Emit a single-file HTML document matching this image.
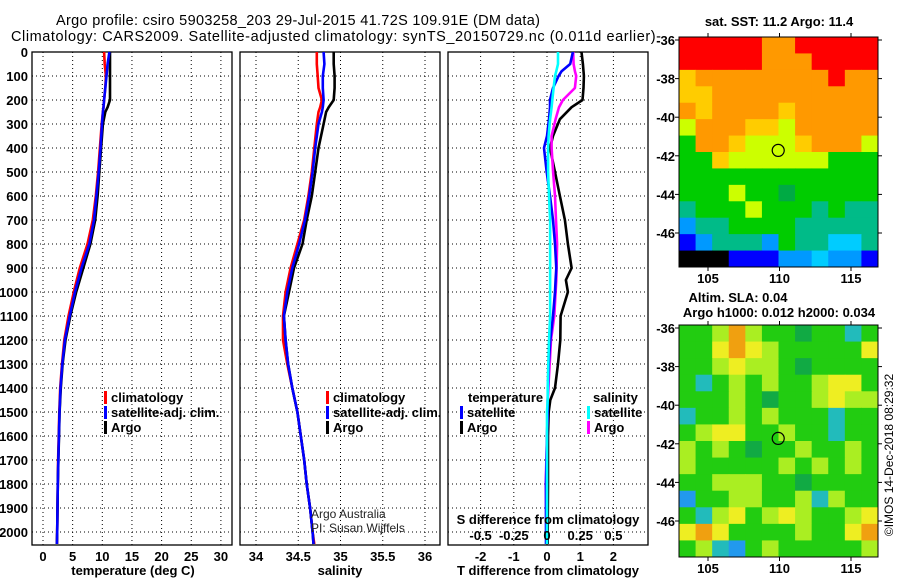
<!DOCTYPE html>
<html><head><meta charset="utf-8"><style>
body{margin:0;background:#fff;}
svg{display:block;font-family:"Liberation Sans",sans-serif;}
.b{font-weight:bold;font-size:13px;}
.t{font-size:14.5px;}
</style></head><body>
<svg id="fig" width="900" height="580" viewBox="0 0 900 580">
<rect width="900" height="580" fill="#fff"/>
<text class="t" x="56" y="25" textLength="484">Argo profile: csiro 5903258_203 29-Jul-2015 41.72S 109.91E (DM data)</text>
<text class="t" x="11" y="41" textLength="650">Climatology: CARS2009. Satellite-adjusted climatology: synTS_20150729.nc (0.011d earlier)-</text>
<g id="g1"></g>
<g id="g2"></g>
<g id="g3"></g>
<g id="m1"></g>
<g id="m2"></g>
<text class="b" x="133" y="575" text-anchor="middle">temperature (deg C)</text>
<text class="b" x="340" y="575" text-anchor="middle">salinity</text>
<text class="b" x="548" y="575" text-anchor="middle">T difference from climatology</text>
<text class="b" x="548" y="524" text-anchor="middle">S difference from climatology</text>
<text x="311" y="518" font-size="12" fill="#222">Argo Australia</text>
<text x="311" y="532" font-size="12" fill="#222">PI: Susan Wijffels</text>
<text class="b" x="779" y="26" text-anchor="middle">sat. SST: 11.2 Argo: 11.4</text>
<text class="b" x="738" y="302" text-anchor="middle">Altim. SLA: 0.04</text>
<text class="b" x="779" y="317" text-anchor="middle">Argo h1000: 0.012 h2000: 0.034</text>
<text x="893" y="455" font-size="12" text-anchor="middle" transform="rotate(-90 893 455)">©IMOS 14-Dec-2018 08:29:32</text>
</svg>
<script>
// ---- profile data ----
const tDepth=[0,50,100,150,200,230,250,300,400,500,600,700,800,900,1000,1100,1200,1300,1400,1500,1600,1700,1800,1900,2000,2050];
const tempArgo=[11.3,11.3,11.3,11.3,11.3,10.9,10.5,10.1,9.8,9.5,9.2,8.8,8.0,6.8,5.6,4.6,3.8,3.3,3.0,2.8,2.7,2.6,2.5,2.45,2.4,2.35];
const tempClim=[10.3,10.4,10.6,10.5,10.3,10.2,10.1,9.9,9.6,9.3,8.9,8.4,7.5,6.2,5.2,4.3,3.6,3.2,2.9,2.75,2.65,2.55,2.5,2.45,2.4,2.35];
const tempSat=[11.2,10.9,10.7,10.5,10.3,10.2,10.1,9.95,9.7,9.4,9.0,8.6,7.8,6.5,5.4,4.5,3.7,3.25,2.95,2.78,2.68,2.58,2.5,2.45,2.4,2.35];
const salArgo=[34.92,34.92,34.93,34.93,34.92,34.86,34.83,34.80,34.74,34.70,34.66,34.60,34.55,34.45,34.39,34.33,34.35,34.38,34.43,34.49,34.53,34.57,34.60,34.64,34.67,34.68];
const salClim=[34.72,34.72,34.73,34.74,34.78,34.76,34.74,34.72,34.69,34.66,34.62,34.57,34.49,34.41,34.35,34.32,34.32,34.37,34.43,34.49,34.53,34.57,34.60,34.64,34.67,34.69];
const salSat=[34.80,34.81,34.79,34.79,34.80,34.79,34.78,34.74,34.70,34.67,34.63,34.58,34.51,34.43,34.37,34.33,34.35,34.38,34.43,34.49,34.53,34.57,34.60,34.64,34.67,34.68];
const dDepth=[0,50,80,100,150,200,230,280,350,400,500,600,700,800,900,950,1000,1100,1200,1300,1400,1450,1500,1600,1800,2000,2050];
const tdArgo=[1.04,1.08,1.1,1.11,1.1,1.07,0.74,0.39,0.18,0.09,0.24,0.39,0.54,0.63,0.74,0.57,0.63,0.41,0.4,0.33,0.24,0.1,0.05,0.03,0.03,0.02,0.02];
const tdSat=[0.78,0.7,0.44,0.35,0.18,0.09,0.09,0.06,0.0,-0.09,-0.01,0.09,0.18,0.24,0.28,0.26,0.24,0.18,0.1,0.05,0.03,0.02,0.02,0.0,-0.03,-0.03,-0.03];
const sdArgo=[0.197,0.2,0.21,0.22,0.21,0.12,0.09,0.065,0.035,0.035,0.046,0.06,0.068,0.076,0.072,0.07,0.065,0.055,0.03,0.02,0.01,0.005,0.005,0.0,-0.01,-0.005,-0.005];
const sdSat=[0.083,0.083,0.07,0.06,0.05,0.04,0.035,0.023,0.012,0.008,0.008,0.015,0.023,0.023,0.023,0.023,0.023,0.023,0.015,0.01,0.005,0.005,0.0,0.0,0.0,0.0,0.0];
const depthTicks=[0,100,200,300,400,500,600,700,800,900,1000,1100,1200,1300,1400,1500,1600,1700,1800,1900,2000];
const tempTicks=[0,5,10,15,20,25,30];
const salTicks=[34,34.5,35,35.5,36];
const salTickLabels=["34","34.5","35","35.5","36"];
const tdTicks=[-2,-1,0,1,2];
const sdTicks=[-0.5,-0.25,0,0.25,0.5];
const sdTickLabels=["-0.5","-0.25","0","0.25","0.5"];
// ---- map data (colour class codes per cell) ----
const sstRows=["RRRRROORRRRR","RRRRROOORRRR","YOOOOOOOOROO","YYOOOOOOOOOO","OYOOOOYOOOOO","LOOOYYLOOOOO","GOOYLLLYOOOL","GGYLLLLLLGGG","GGGGGGGGGGGG","GGGLGGDGGGGG","TGGGLGGGTGTT","BTTGGGGTTTTT","KBTTTBGTTCCT","NNNKKKBBCBBK"];
const slaRows=["GGLOLGGDGGCG","GGYOYLGGGGGY","GGLYLLGDGGGG","GCGLGLGGLYYG","GGGLGDGGLYLL","CGGLGLGGGCGG","GLYYGGLGGCGG","LGLGDGGLGGLG","LGGGGGLGLGLG","GGLLLGGDGGGG","BGGLLGGLCLGG","GCLYGLYLGGLY","YOYGGGGLGGYO","GLCBGLGGGGGL"];
const latTicks=[-36,-38,-40,-42,-44,-46];
const lonTicks=[105,110,115];
const argoLat=-41.72, argoLon=109.91;

const NS="http://www.w3.org/2000/svg";
function el(tag,attrs,parent){const e=document.createElementNS(NS,tag);for(const k in attrs)e.setAttribute(k,attrs[k]);parent.appendChild(e);return e;}
const top0=52, pxPerM=0.24, bot=545;
const yD=d=>top0+d*pxPerM;

function panel(g,x0,x1,name){
  const r=el('rect',{x:x0,y:top0,width:x1-x0,height:bot-top0,fill:'none',stroke:'#000','stroke-width':1.3},g);
  
  
  depthTicks.forEach(d=>{
    const l=el('line',{x1:x0,x2:x1,y1:yD(d),y2:yD(d),stroke:'#000','stroke-dasharray':'1,3','stroke-width':1},g);
    
    
  });
}
function vgrid(g,xs){xs.forEach(x=>{
  const l=el('line',{x1:x,x2:x,y1:top0,y2:bot,stroke:'#000','stroke-dasharray':'1,3','stroke-width':1},g);
  
  
});}
function series(g,depths,vals,xf,color,name,w){
  let d='';
  for(let i=0;i<vals.length;i++){d+=(i?'L':'M')+xf(vals[i]).toFixed(1)+','+yD(depths[i]).toFixed(1);}
  const p=el('path',{d:d,fill:'none',stroke:color,'stroke-width':w||2.6,'stroke-linejoin':'round'},g);
  
  
}
function label(g,x,y,txt,anchor,name){
  const t=el('text',{x:x,y:y,'text-anchor':anchor||'middle','class':'b'},g);t.textContent=txt;
  
  
}
function legendMark(g,x,y,color,txt,name){
  const r=el('rect',{x:x,y:y-11,width:3,height:13,fill:color},g);
  
  
  label(g,x+7,y,txt,'start',name);
}

// temperature panel
const g1=document.getElementById('g1');
const xT=v=>43+v*5.93;
panel(g1,32,232,'temperature-panel');
vgrid(g1,tempTicks.map(xT));
series(g1,tDepth,tempClim,xT,'#f00','temp-climatology-line');
series(g1,tDepth,tempArgo,xT,'#000','temp-argo-line');
series(g1,tDepth,tempSat,xT,'#00f','temp-satellite-line');
depthTicks.forEach(d=>label(g1,28,yD(d)+5,String(d),'end','depth-tick-label'));
tempTicks.forEach(v=>label(g1,xT(v),561,String(v),'middle','temp-tick-label'));
legendMark(g1,104,402,'#f00','climatology','legend-climatology');
legendMark(g1,104,417,'#00f','satellite-adj. clim.','legend-satellite');
legendMark(g1,104,432,'#000','Argo','legend-argo');

// salinity panel
const g2=document.getElementById('g2');
const xS=v=>256+(v-34)*84.5;
panel(g2,240,440,'salinity-panel');
vgrid(g2,salTicks.map(xS));
series(g2,tDepth,salClim,xS,'#f00','sal-climatology-line');
series(g2,tDepth,salArgo,xS,'#000','sal-argo-line');
series(g2,tDepth,salSat,xS,'#00f','sal-satellite-line');
salTicks.forEach((v,i)=>label(g2,xS(v),561,salTickLabels[i],'middle','sal-tick-label'));
legendMark(g2,326,402,'#f00','climatology','legend-climatology');
legendMark(g2,326,417,'#00f','satellite-adj. clim.','legend-satellite');
legendMark(g2,326,432,'#000','Argo','legend-argo');

// difference panel
const g3=document.getElementById('g3');
const xTd=v=>547+v*33.2;
const xSd=v=>547+v*132.8;
panel(g3,448,648,'difference-panel');
vgrid(g3,tdTicks.map(xTd));
series(g3,dDepth,tdArgo,xTd,'#000','t-diff-argo-line');
series(g3,dDepth,sdArgo,xSd,'#f0f','s-diff-argo-line');
series(g3,dDepth,tdSat,xTd,'#00f','t-diff-satellite-line');
series(g3,dDepth,sdSat,xSd,'#0ff','s-diff-satellite-line');
tdTicks.map(v=>label(g3,xTd(v),561,String(v),'middle','t-diff-tick-label'));
sdTicks.forEach((v,i)=>label(g3,xSd(v),540,sdTickLabels[i],'middle','s-diff-tick-label'));
label(g3,468,402,'temperature','start','legend-temperature-heading');
legendMark(g3,460,417,'#00f','satellite','legend-t-satellite');
legendMark(g3,460,432,'#000','Argo','legend-t-argo');
label(g3,593,402,'salinity','start','legend-salinity-heading');
legendMark(g3,587,417,'#0ff','satellite','legend-s-satellite');
legendMark(g3,587,432,'#f0f','Argo','legend-s-argo');

// maps
const sstCol={R:'#ff0000',O:'#ff9900',Y:'#ffcc00',L:'#ccff00',G:'#00cc00',D:'#00aa44',T:'#00bb88',C:'#00ccff',B:'#0099ff',K:'#0000ff',N:'#000000'};
const slaCol={G:'#22cc11',D:'#11aa44',L:'#aaee22',Y:'#eeee22',O:'#f0a010',C:'#22bbbb',B:'#2299ee'};
function map(gid,rows,cols,x0,y0,x1,y1,name){
  const g=document.getElementById(gid);
  const nr=rows.length,nc=rows[0].length,cw=(x1-x0)/nc,ch=(y1-y0)/nr;
  rows.forEach((row,i)=>{for(let j=0;j<nc;j++){
    const c=el('rect',{x:(x0+j*cw).toFixed(2),y:(y0+i*ch).toFixed(2),width:(cw+0.5).toFixed(2),height:(ch+0.5).toFixed(2),fill:cols[row[j]]},g);
    
    
  }});
  const f=el('rect',{x:x0,y:y0,width:x1-x0,height:y1-y0,fill:'none',stroke:'#000','stroke-width':1},g);
  
  
  const yL=lat=>y0+3+(-36-lat)*19.3;
  const xL=lon=>708+(lon-105)*14.3;
  latTicks.forEach(lat=>{
    el('line',{x1:x0-4,x2:x0,y1:yL(lat),y2:yL(lat),stroke:'#000'},g);
    el('line',{x1:x1,x2:x1+4,y1:yL(lat),y2:yL(lat),stroke:'#000'},g);
    label(g,x0-4,yL(lat)+5,String(lat),'end','lat-tick-label');
  });
  lonTicks.forEach(lon=>{
    el('line',{x1:xL(lon),x2:xL(lon),y1:y0-4,y2:y0,stroke:'#000'},g);
    el('line',{x1:xL(lon),x2:xL(lon),y1:y1,y2:y1+4,stroke:'#000'},g);
    label(g,xL(lon),y1+16,String(lon),'middle','lon-tick-label');
  });
  const c=el('circle',{cx:xL(argoLon),cy:yL(argoLat),r:6,fill:'none',stroke:'#000','stroke-width':1.2},g);
  
  
}
map('m1',sstRows,sstCol,679,37,878,267,'sst-map');
map('m2',slaRows,slaCol,679,325,878,557,'sla-map');
</script>
</body></html>
